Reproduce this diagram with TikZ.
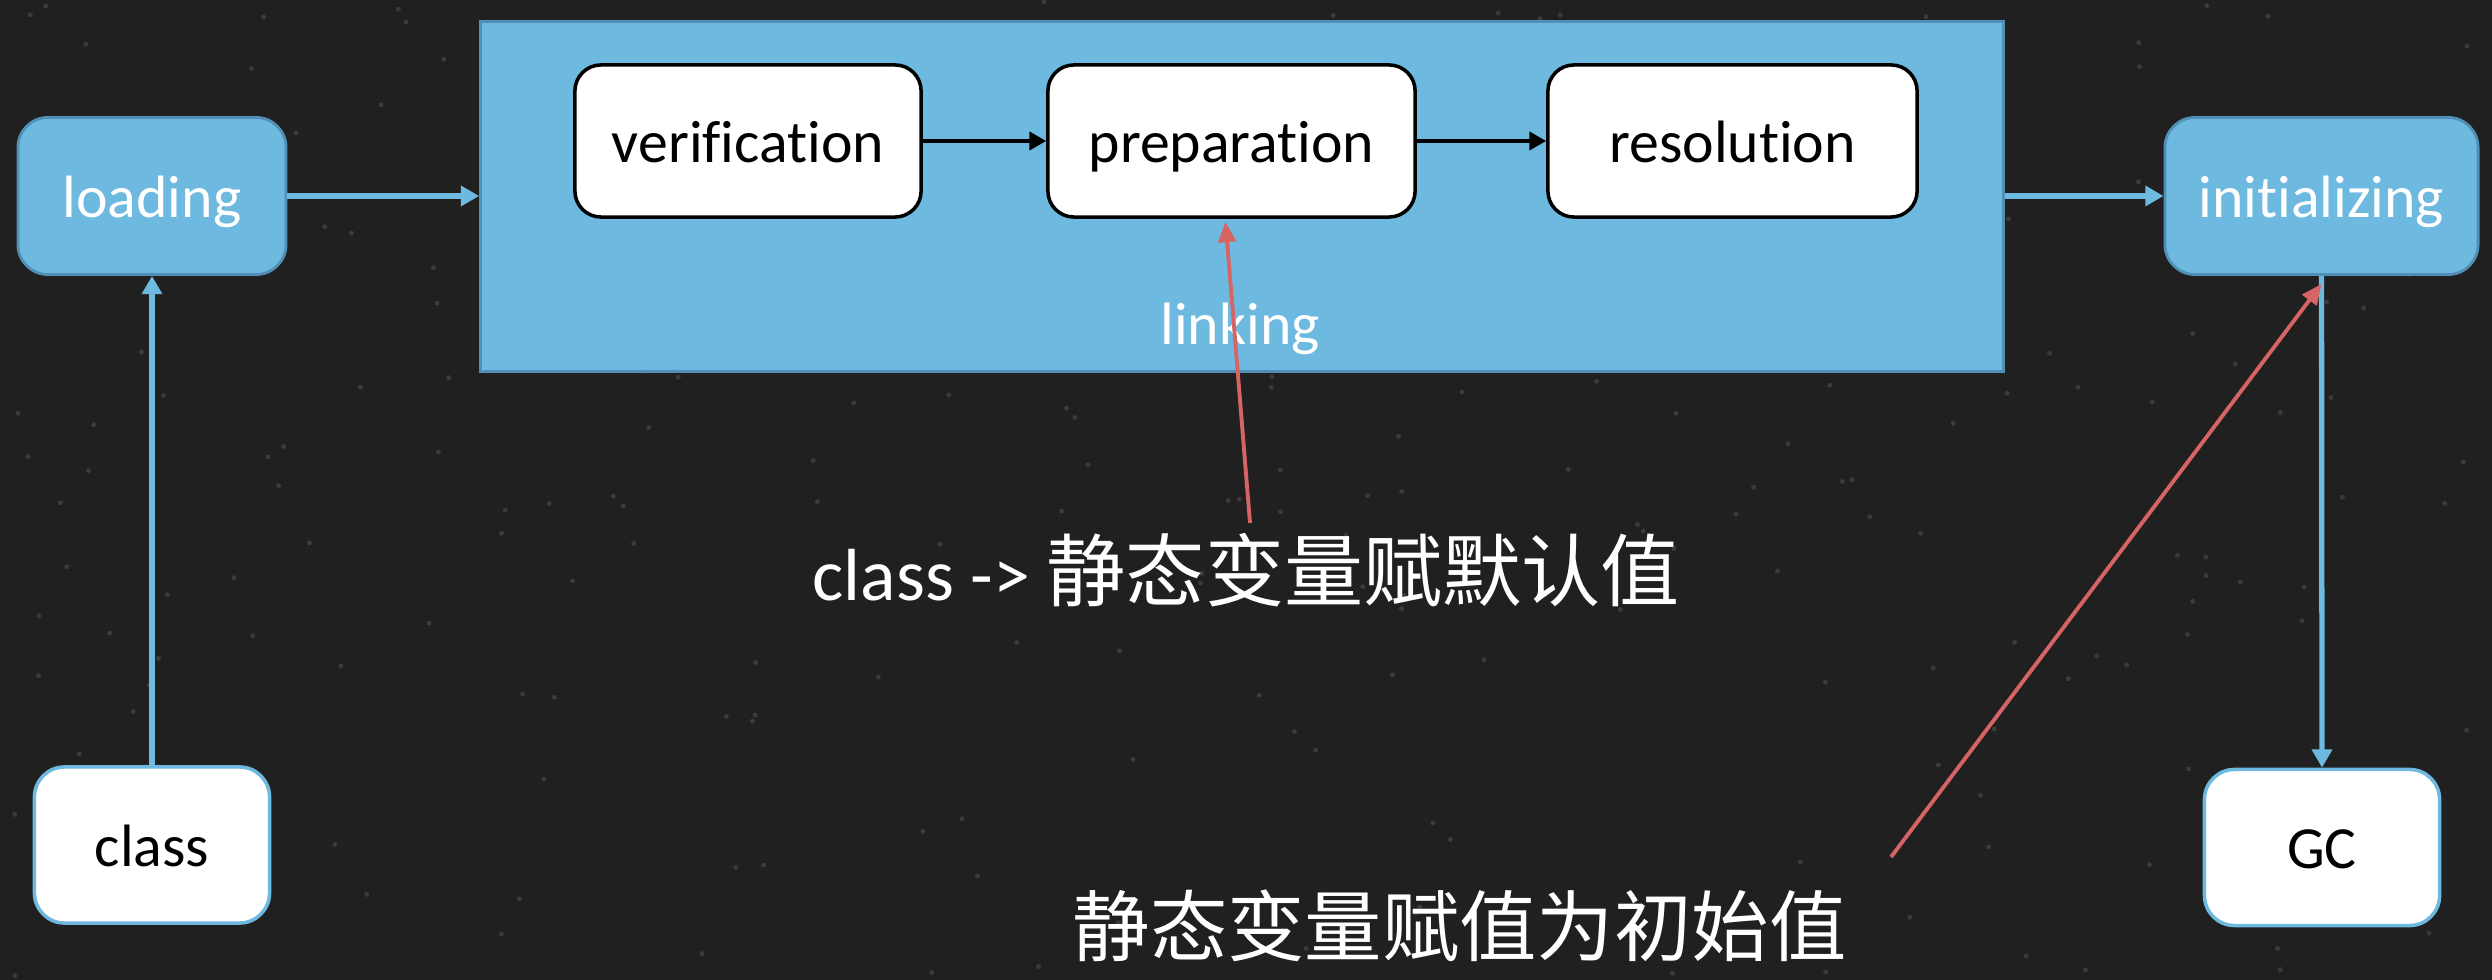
\documentclass[tikz,border=0pt]{standalone}
\usepackage{fontspec}
\setmainfont{Carlito}[Ligatures={NoCommon}]
\newfontfamily\cjk{Noto Sans CJK SC}
\usetikzlibrary{arrows.meta}
\definecolor{board}{HTML}{202020}
\definecolor{sky}{HTML}{6EB9E0}
\definecolor{skyedge}{HTML}{5090B6}
\definecolor{redline}{HTML}{D66464}
\begin{document}
\begin{tikzpicture}[x=0.01cm,y=-0.01cm,
  boxfont/.style={font=\fontsize{17}{20}\selectfont, text height=12pt, text depth=0pt},
  bluebox/.style={boxfont, draw=skyedge, line width=0.8pt, fill=sky, rounded corners=0.3cm,
    text=white, inner sep=0pt, minimum height=1.57cm},
  whitebox/.style={boxfont, draw=sky, line width=1pt, fill=white, rounded corners=0.3cm,
    text=black, inner sep=0pt, minimum height=1.56cm, minimum width=2.35cm},
  stagebox/.style={boxfont, draw=black, line width=1pt, fill=white, rounded corners=0.26cm,
    text=black, inner sep=0pt, minimum height=1.52cm},
  bluearrow/.style={draw=sky, line width=1.5pt, -{Triangle[length=5.2pt,width=5.6pt]}},
  blackarrow/.style={draw=black, line width=1pt, -{Triangle[length=4.8pt,width=5.2pt]}},
  redarrow/.style={draw=redline, line width=1.1pt, -{Triangle[length=5.8pt,width=5pt]}}
]
\fill[board] (0,0) rectangle (2492,980);
\useasboundingbox (0,0) rectangle (2492,980);
\pgfmathsetseed{11}
\foreach \i in {1,...,260} {
  \fill[white,opacity=0.12] (2492*rnd,980*rnd) circle (0.7pt);
}

% linking container
\node[draw=skyedge, line width=0.8pt, fill=sky, inner sep=0pt,
      minimum width=15.22cm, minimum height=3.49cm] (linking) at (1242,196.5) {};
\node[font=\fontsize{17}{20}\selectfont, text=white, anchor=base] (linklabel) at (1240,345) {linking};

% stages
\node[stagebox, minimum width=3.46cm] (verif) at (748,141) {verification};
\node[stagebox, minimum width=3.67cm] (prep) at (1231.5,141) {preparation};
\node[stagebox, minimum width=3.69cm] (resol) at (1732.5,141) {resolution};

% side boxes
\node[bluebox, minimum width=2.68cm] (loading) at (152,196) {loading};
\node[bluebox, minimum width=3.13cm] (init) at (2321.5,196) {initializing};
\node[whitebox] (class) at (152,845) {class};
\node[whitebox] (gc) at (2322,847.5) {GC};

% connectors
\draw[bluearrow] (class.north) -- (loading.south);
\draw[bluearrow] (loading.east) -- (linking.west |- loading.east);
\draw[bluearrow] (linking.east |- init.west) -- (init.west);
\draw[bluearrow] (init.south) -- (gc.north);
\draw[blackarrow] (verif.east) -- (prep.west);
\draw[blackarrow] (prep.east) -- (resol.west);

% annotations
\node[anchor=base west, text=white, inner sep=0pt] (note1) at (812,601)
  {\fontsize{21}{25}\selectfont class ->\ {\cjk\fontsize{22.5}{26}\selectfont 静态变量赋默认值}};
\node[anchor=base west, text=white, inner sep=0pt] (note2) at (1072,955)
  {\cjk\fontsize{22}{26}\selectfont 静态变量赋值为初始值};

\coordinate (r1) at (1250,523);
\coordinate (r2) at (1891,857);
\draw[redarrow] (r1) -- ([xshift=-0.06cm,yshift=-0.03cm]prep.south);
\draw[redarrow] (r2) -- ([yshift=-0.08cm]init.south);
\end{tikzpicture}
\end{document}
